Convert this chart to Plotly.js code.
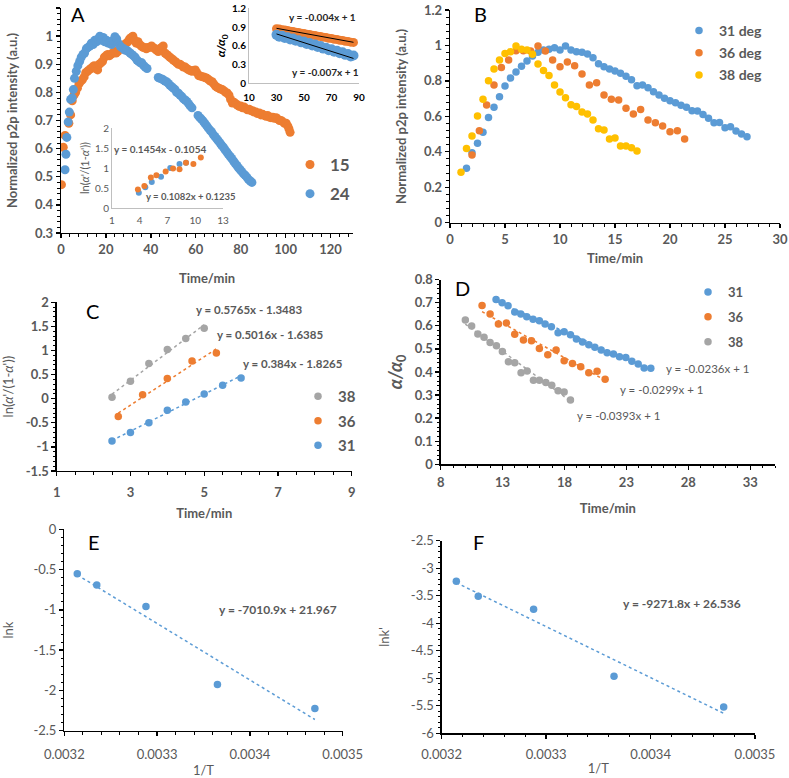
<!DOCTYPE html>
<html><head><meta charset="utf-8">
<script src="https://cdn.plot.ly/plotly-3.0.1.min.js"></script>
<style>html,body{margin:0;padding:0;background:#fff}</style>
</head><body><div id="chart" style="width:789px;height:778px"></div>
<script>
// ---------- Panel A (main) ----------
const a15x = [0.2,1.0,1.8,3.5,4.3,5.0,5.8,6.5,7.3,8.0,8.8,9.5,10.3,11.0,11.8,12.5,13.3,14.0,14.8,15.5,16.3,17.0,17.8,18.5,19.3,20.0,20.8,21.5,22.3,23.0,23.8,24.5,25.3,26.0,26.8,27.5,28.3,29.0,29.8,30.5,31.3,32.0,32.8,33.5,34.3,35.0,35.8,36.5,37.3,38.0,38.8,39.5,40.3,41.0,41.8,42.5,43.3,44.0,44.8,45.5,46.3,47.0,47.8,48.5,49.3,50.0,50.8,51.5,52.3,53.0,53.8,54.5,55.3,56.0,56.8,57.5,58.3,59.0,59.8,60.5,61.3,62.0,62.8,63.5,64.3,65.0,65.8,66.5,67.3,68.0,68.8,69.5,70.3,71.0,71.8,72.5,73.3,74.0,74.8,75.5,76.3,77.0,77.8,78.5,79.3,80.0,80.8,81.5,82.3,83.0,83.8,84.5,85.3,86.0,86.8,87.5,88.3,89.0,89.8,90.5,91.3,92.0,92.8,93.5,94.3,95.0,95.8,96.5,97.3,98.0,98.8,99.5,100.3,101.0,101.5,102.0];
const a15y = [0.472,0.605,0.647,0.69,0.72,0.77,0.79,0.80,0.815,0.83,0.84,0.845,0.855,0.87,0.875,0.88,0.885,0.89,0.895,0.885,0.88,0.90,0.905,0.91,0.925,0.93,0.935,0.93,0.935,0.94,0.945,0.94,0.945,0.955,0.96,0.965,0.97,0.975,0.98,0.99,0.995,1.0,0.985,0.975,0.98,0.97,0.965,0.96,0.96,0.955,0.96,0.96,0.965,0.96,0.955,0.95,0.945,0.955,0.96,0.965,0.94,0.935,0.93,0.925,0.92,0.915,0.91,0.905,0.90,0.90,0.895,0.89,0.89,0.885,0.88,0.878,0.875,0.878,0.88,0.87,0.86,0.858,0.856,0.855,0.852,0.85,0.845,0.84,0.838,0.83,0.822,0.818,0.815,0.812,0.81,0.806,0.80,0.798,0.79,0.775,0.762,0.765,0.76,0.755,0.75,0.752,0.745,0.748,0.742,0.738,0.74,0.735,0.735,0.73,0.73,0.725,0.727,0.72,0.722,0.718,0.715,0.718,0.712,0.71,0.712,0.708,0.71,0.705,0.70,0.70,0.695,0.69,0.69,0.68,0.67,0.658];
const a24x = [1.8,2.2,2.6,3.2,3.7,4.3,5.0,5.5,6.0,6.8,7.5,8.3,9.0,9.8,10.5,11.3,12.0,12.8,13.5,14.3,15.0,15.8,16.5,17.3,18.0,18.8,19.5,20.3,21.0,21.8,22.5,23.3,24.0,24.8,25.5,26.3,27.0,27.8,28.5,29.3,30.0,30.8,31.5,32.3,33.0,33.8,34.5,35.3,36.0,36.8,37.5,38.3,43.3,44.0,44.8,45.5,46.3,47.0,47.8,48.5,49.3,50.0,50.8,51.5,52.3,53.0,53.8,54.5,55.3,56.0,56.8,57.5,58.3,61.0,61.8,62.5,63.3,64.0,64.8,65.5,66.3,67.0,67.8,68.5,69.3,70.0,70.8,71.5,72.3,73.0,73.8,74.5,75.3,76.0,76.8,77.5,78.3,79.0,79.8,80.5,81.3,82.0,82.8,83.5,84.3,85.0];
const a24y = [0.525,0.58,0.64,0.695,0.73,0.775,0.78,0.81,0.85,0.875,0.895,0.91,0.925,0.935,0.94,0.955,0.96,0.965,0.975,0.97,0.985,0.98,0.99,1.0,0.985,0.995,0.98,0.985,0.975,0.98,0.97,0.985,0.998,0.99,0.975,0.965,0.96,0.955,0.95,0.95,0.945,0.94,0.935,0.93,0.925,0.915,0.91,0.905,0.905,0.895,0.89,0.885,0.853,0.85,0.848,0.845,0.84,0.838,0.832,0.825,0.82,0.815,0.81,0.80,0.797,0.79,0.785,0.777,0.773,0.768,0.76,0.752,0.745,0.718,0.71,0.705,0.698,0.69,0.682,0.674,0.666,0.66,0.65,0.643,0.635,0.628,0.62,0.612,0.605,0.596,0.588,0.58,0.572,0.565,0.556,0.548,0.54,0.532,0.525,0.518,0.51,0.505,0.498,0.49,0.485,0.48];

// ---------- Panel A inset (alpha/alpha0) ----------
const in1x15 = [30,32,34,36,38,40,42,44,46,48,50,52,54,56,58,60,62,64,66,68,70,72,74,76,78,80,82,84,86];
const in1y15 = [0.872,0.868,0.858,0.852,0.846,0.834,0.830,0.818,0.814,0.800,0.798,0.786,0.782,0.768,0.766,0.752,0.750,0.738,0.734,0.720,0.718,0.704,0.702,0.688,0.686,0.672,0.670,0.658,0.654];
const in1x24 = [30,32,34,36,38,40,42,44,46,48,50,52,54,56,58,60,62,64,66,68,70,72,74,76,78,80,82,84,86];
const in1y24 = [0.775,0.745,0.760,0.725,0.735,0.700,0.715,0.680,0.690,0.655,0.670,0.630,0.645,0.605,0.620,0.580,0.595,0.555,0.570,0.530,0.545,0.505,0.520,0.480,0.495,0.455,0.470,0.430,0.445];
const in1fit = {slope15: -0.004, int15: 1, slope24: -0.007, int24: 1};

// ---------- Panel A inset (ln) ----------
const in2x15 = [3.8,4.5,5.2,5.8,6.8,7.6,8.3,9.0,9.8,10.6];
const in2y15 = [0.46,0.55,0.76,0.82,0.91,0.99,0.97,1.13,1.10,1.26];
const in2x24 = [3.9,4.6,5.3,6.3,7.3,8.3,9.0];
const in2y24 = [0.38,0.52,0.65,0.78,1.0,1.10,1.13];

// ---------- Panel B ----------
const b31x = [1.5,2.0,2.5,3.0,3.5,4.0,4.5,5.0,5.5,6.0,6.5,7.0,7.5,8.0,8.5,9.0,9.5,10.0,10.5,11.0,11.5,12.0,12.5,13.0,13.5,14.0,14.5,15.0,15.5,16.0,16.5,17.0,17.5,18.0,18.5,19.0,19.5,20.0,20.5,21.0,21.5,22.0,22.5,23.0,23.5,24.0,24.5,25.0,25.5,26.0,26.5,27.0];
const b31y = [0.307,0.395,0.448,0.51,0.594,0.651,0.711,0.771,0.816,0.85,0.882,0.912,0.94,0.961,0.974,0.978,0.987,0.974,0.997,0.974,0.965,0.961,0.952,0.931,0.897,0.88,0.867,0.856,0.843,0.826,0.807,0.773,0.777,0.762,0.739,0.72,0.702,0.688,0.677,0.662,0.651,0.632,0.63,0.611,0.589,0.564,0.566,0.536,0.542,0.517,0.50,0.485];
const b36x = [2.0,2.67,3.33,4.0,4.67,5.33,6.0,6.67,7.33,8.0,8.67,9.33,10.0,10.67,11.33,12.0,12.67,13.33,14.0,14.67,15.33,16.0,16.67,17.33,18.0,18.67,19.33,20.0,20.67,21.33];
const b36y = [0.382,0.519,0.664,0.777,0.876,0.918,0.97,0.97,0.968,0.997,0.968,0.918,0.88,0.906,0.886,0.839,0.777,0.79,0.72,0.696,0.692,0.645,0.613,0.639,0.579,0.564,0.545,0.513,0.519,0.472];
const b38x = [1.0,1.5,2.0,2.5,3.0,3.5,4.0,4.5,5.0,5.5,6.0,6.5,7.0,7.5,8.0,8.5,9.0,9.5,10.0,10.5,11.0,11.5,12.0,12.5,13.0,13.5,14.0,14.5,15.0,15.5,16.0,16.5,17.0];
const b38y = [0.284,0.419,0.489,0.602,0.696,0.801,0.867,0.918,0.955,0.965,0.997,0.978,0.974,0.95,0.895,0.858,0.831,0.777,0.737,0.705,0.666,0.655,0.624,0.613,0.579,0.53,0.523,0.472,0.478,0.433,0.433,0.423,0.404];

// ---------- Panel C ----------
const c38x = [2.5,3.0,3.5,4.0,4.5,5.0];
const c38y = [0.03,0.36,0.73,1.02,1.25,1.46];
const c36x = [2.67,3.33,4.0,4.67,5.33];
const c36y = [-0.37,0.08,0.42,0.78,0.95];
const c31x = [2.5,3.0,3.5,4.0,4.5,5.0,5.5,6.0];
const c31y = [-0.88,-0.70,-0.50,-0.24,-0.07,0.10,0.28,0.43];
const cSlopes = [0.5765, 0.5016, 0.384];       // 38, 36, 31
const cIntercepts = [-1.3483, -1.6385, -1.8265];

// ---------- Panel D ----------
const d31x = [12.47,12.96,13.44,13.98,14.47,14.95,15.46,15.97,16.43,16.94,17.48,17.97,18.48,18.96,19.45,19.96,20.45,20.96,21.44,21.95,22.44,22.95,23.44,23.95,24.43,24.97];
const d31y = [0.714,0.70,0.687,0.66,0.651,0.639,0.628,0.622,0.608,0.596,0.57,0.574,0.561,0.543,0.53,0.518,0.507,0.495,0.483,0.478,0.466,0.463,0.446,0.434,0.417,0.416];
const d36x = [11.34,11.99,12.66,13.31,13.98,14.68,15.33,15.97,16.65,17.32,17.97,18.64,19.31,19.96,20.63,21.28];
const d36y = [0.688,0.651,0.608,0.612,0.563,0.538,0.535,0.502,0.475,0.495,0.449,0.437,0.423,0.397,0.403,0.368];
const d38x = [9.99,10.5,11.0,11.5,11.99,12.5,12.98,13.47,13.98,14.49,14.98,15.49,15.97,16.49,16.97,17.48,17.97,18.48];
const d38y = [0.625,0.599,0.564,0.55,0.528,0.514,0.489,0.444,0.44,0.397,0.404,0.364,0.364,0.354,0.342,0.319,0.313,0.279];
const dSlopes = [-0.0236, -0.0299, -0.0393];   // 31, 36, 38
const dIntercepts = [1, 1, 1];

// ---------- Panels E, F ----------
const invT = [0.003214, 0.003235, 0.003288, 0.003365, 0.003470];
const lnk = [-0.551, -0.690, -0.957, -1.928, -2.224];
const lnk2 = [-3.237, -3.510, -3.747, -4.962, -5.521];
const eFit = [-7010.9, 21.967];
const fFit = [-9271.8, 26.536];

// tick labels
const cYvals = [-1.5,-1,-0.5,0,0.5,1,1.5,2];
const cYtext = ["-1.5","-1","-0.5","0","0.5","1","1.5","2"];
const eYvals = [-2.5,-2,-1.5,-1,-0.5,0];
const eYtext = ["-2.5","-2","-1.5","-1","-0.5","0"];
const fYvals = [-6,-5.5,-5,-4.5,-4,-3.5,-3,-2.5];
const fYtext = ["-6","-5.5","-5","-4.5","-4","-3.5","-3","-2.5"];
const invTvals = [0.0032,0.0033,0.0034,0.0035];
const invTtext = ["0.0032","0.0033","0.0034","0.0035"];

// ---------- styling ----------
const BLUE = '#5B9BD5', ORANGE = '#ED7D31', YELLOW = '#FFC000', GREY = '#A5A5A5';
const TXT = '#595959';
const FF = "Lato, 'Open Sans', sans-serif";
const W = 789, H = 778;
function xd(a, b) { return [a / W, b / W]; }
function yd(top, bot) { return [1 - bot / H, 1 - top / H]; }
function fitLine(xs, m, b) {
  const lo = Math.min(...xs), hi = Math.max(...xs);
  return {x: [lo, hi], y: [m * lo + b, m * hi + b]};
}

function axis(o) {
  const a = {
    domain: o.domain, range: o.range, showline: true, linecolor: '#000', linewidth: 1.3,
    ticks: 'outside', ticklen: 4, tickwidth: 1.3, tickcolor: '#000',
    showgrid: false, zeroline: false, anchor: o.anchor,
    tickfont: {family: FF, size: o.fs || 13, color: TXT, weight: o.bold === false ? 'normal' : 'bold'},
    fixedrange: true, ticklabelstandoff: o.tls || 0
  };
  if (o.tickvals) { a.tickmode = 'array'; a.tickvals = o.tickvals; a.ticktext = o.ticktext; }
  else { a.tickmode = 'linear'; a.tick0 = o.tick0; a.dtick = o.dtick; }
  if (o.minor) a.minor = {tickmode: 'linear', tick0: o.tick0m !== undefined ? o.tick0m : o.range[0], dtick: o.minor, ticks: 'outside', ticklen: 2.5, tickwidth: 1, tickcolor: '#000'};
  if (o.title) a.title = {text: o.title, font: {family: FF, size: o.tfs || 13, color: TXT, weight: o.tbold === false ? 'normal' : 'bold'}, standoff: o.standoff || 6};
  return a;
}
function insetAxis(o) {
  const a = {
    domain: o.domain, range: o.range, showline: true, linecolor: '#BFBFBF', linewidth: 1,
    ticks: '', showgrid: false, zeroline: false, anchor: o.anchor, tickmode: 'linear', tick0: o.tick0, dtick: o.dtick,
    tickfont: {family: FF, size: 10, color: o.color, weight: o.bold ? 'bold' : 'normal'}, fixedrange: true,
    ticklabelstandoff: o.tls || 0
  };
  if (o.title) a.title = {text: o.title, font: {family: FF, size: o.tfs || 11, color: o.color, weight: o.bold ? 'bold' : 'normal'}, standoff: o.standoff || 3};
  return a;
}
function pts(x, y, color, size, xa, ya, name, leg, extra) {
  return Object.assign({type: 'scatter', mode: 'markers', x: x, y: y, name: name || 'data', xaxis: xa, yaxis: ya,
    marker: {color: color, size: size}, showlegend: !!leg, legend: leg || 'legend', hoverinfo: 'skip'}, extra || {});
}
function line(f, color, xa, ya, dash, width) {
  return {type: 'scatter', mode: 'lines', x: f.x, y: f.y, xaxis: xa, yaxis: ya, showlegend: false, hoverinfo: 'skip',
    name: 'trend', line: {color: color, dash: dash, width: width}};
}

const traces = [
  // A main
  pts(a15x, a15y, ORANGE, 9, 'x', 'y', '15', 'legend', {legendgroup: 'a1'}),
  pts(a24x, a24y, BLUE, 9, 'x', 'y', '24', 'legend', {legendgroup: 'a2'}),
  // A inset alpha
  pts(in1x15, in1y15, ORANGE, 9, 'x2', 'y2'),
  pts(in1x24, in1y24, BLUE, 10, 'x2', 'y2'),
  line(fitLine(in1x15, in1fit.slope15, in1fit.int15), '#000', 'x2', 'y2', 'solid', 1),
  line(fitLine(in1x24, in1fit.slope24, in1fit.int24), '#000', 'x2', 'y2', 'solid', 1),
  // A inset ln
  pts(in2x24, in2y24, BLUE, 6, 'x3', 'y3'),
  pts(in2x15, in2y15, ORANGE, 6, 'x3', 'y3'),
  // B
  pts(b31x, b31y, BLUE, 7.5, 'x4', 'y4', '31 deg', 'legend2', {legendgroup: 'b1'}),
  pts(b36x, b36y, ORANGE, 7.5, 'x4', 'y4', '36 deg', 'legend2', {legendgroup: 'b2'}),
  pts(b38x, b38y, YELLOW, 7.5, 'x4', 'y4', '38 deg', 'legend2', {legendgroup: 'b3'}),
  // C
  line(fitLine(c38x, cSlopes[0], cIntercepts[0]), GREY, 'x5', 'y5', 'dot', 1.5),
  line(fitLine(c36x, cSlopes[1], cIntercepts[1]), ORANGE, 'x5', 'y5', 'dot', 1.5),
  line(fitLine(c31x, cSlopes[2], cIntercepts[2]), BLUE, 'x5', 'y5', 'dot', 1.5),
  pts(c38x, c38y, GREY, 7.5, 'x5', 'y5', '38', 'legend3', {legendgroup: 'c1'}),
  pts(c36x, c36y, ORANGE, 7.5, 'x5', 'y5', '36', 'legend3', {legendgroup: 'c2'}),
  pts(c31x, c31y, BLUE, 7.5, 'x5', 'y5', '31', 'legend3', {legendgroup: 'c3'}),
  // D
  line(fitLine(d31x, dSlopes[0], dIntercepts[0]), BLUE, 'x6', 'y6', 'dot', 1.5),
  line(fitLine(d36x, dSlopes[1], dIntercepts[1]), ORANGE, 'x6', 'y6', 'dot', 1.5),
  line(fitLine(d38x, dSlopes[2], dIntercepts[2]), GREY, 'x6', 'y6', 'dot', 1.5),
  pts(d31x, d31y, BLUE, 7.5, 'x6', 'y6', '31', 'legend4', {legendgroup: 'd1'}),
  pts(d36x, d36y, ORANGE, 7.5, 'x6', 'y6', '36', 'legend4', {legendgroup: 'd2'}),
  pts(d38x, d38y, GREY, 7.5, 'x6', 'y6', '38', 'legend4', {legendgroup: 'd3'}),
  // E
  line(fitLine(invT, eFit[0], eFit[1]), BLUE, 'x7', 'y7', 'dot', 1.5),
  pts(invT, lnk, BLUE, 7.5, 'x7', 'y7'),
  // F
  line(fitLine(invT, fFit[0], fFit[1]), BLUE, 'x8', 'y8', 'dot', 1.5),
  pts(invT, lnk2, BLUE, 7.5, 'x8', 'y8')
];

function ann(text, px, py, size, color, bold, extra) {
  return Object.assign({text: text, x: px / W, y: 1 - py / H, xref: 'paper', yref: 'paper', showarrow: false,
    xanchor: 'center', yanchor: 'middle', font: {family: FF, size: size, color: color, weight: bold ? 'bold' : 'normal'}}, extra || {});
}
function legendBox(px, py, size, gap) {
  return {x: px / W, y: 1 - py / H, xanchor: 'left', yanchor: 'top', bgcolor: 'rgba(0,0,0,0)',
    font: {family: FF, size: size, color: TXT, weight: 'bold'}, tracegroupgap: gap, itemwidth: 30};
}

const layout = {
  width: W, height: H, margin: {l: 0, r: 0, t: 0, b: 0},
  paper_bgcolor: '#fff', plot_bgcolor: 'rgba(0,0,0,0)', showlegend: true,
  xaxis: axis({domain: xd(61, 353), range: [0, 130], tick0: 0, dtick: 20, minor: 4, anchor: 'y', title: 'Time/min', standoff: 18}),
  yaxis: axis({domain: yd(8, 233), range: [0.3, 1.1], tick0: 0.3, dtick: 0.1, minor: 0.02, anchor: 'x', title: 'Normalized p2p intensity (a.u.)', standoff: 14}),
  xaxis2: insetAxis({domain: xd(249, 359), range: [10, 90], tick0: 10, dtick: 20, anchor: 'y2', color: '#000', bold: true, tls: 5}),
  yaxis2: insetAxis({domain: yd(8.3, 83.3), range: [0, 1.2], tick0: 0, dtick: 0.3, anchor: 'x2', color: '#000', bold: true, title: '<i>α/α</i><sub>0</sub>', tfs: 12}),
  xaxis3: insetAxis({domain: xd(112, 223), range: [1, 13], tick0: 1, dtick: 3, anchor: 'y3', color: TXT, bold: false, tls: 3}),
  yaxis3: insetAxis({domain: yd(128, 208), range: [0, 2], tick0: 0, dtick: 0.5, anchor: 'x3', color: TXT, bold: false, title: "ln(<i>α</i>'/(1-<i>α</i>'))", tfs: 11}),
  xaxis4: axis({domain: xd(450, 780), range: [0, 30], tick0: 0, dtick: 5, minor: 1, anchor: 'y4', title: 'Time/min', standoff: 8}),
  yaxis4: axis({domain: yd(10, 222.7), range: [0, 1.2], tick0: 0, dtick: 0.2, minor: 0.04, anchor: 'x4', title: 'Normalized p2p intensity (a.u.)', standoff: 14}),
  xaxis5: axis({domain: xd(56.7, 351.7), range: [1, 9], tick0: 1, dtick: 2, minor: 0.5, anchor: 'y5', title: 'Time/min', standoff: 10, tls: 5}),
  yaxis5: axis({domain: yd(302.3, 471), range: [-1.5, 2], tickvals: cYvals, ticktext: cYtext, minor: 0.1, tick0m: -1.5, anchor: 'x5', title: "ln(<i>α</i>'/(1-<i>α</i>'))", tbold: false, standoff: 10}),
  xaxis6: axis({domain: xd(440.7, 775), range: [8, 35], tick0: 8, dtick: 5, minor: 1, anchor: 'y6', title: 'Time/min', standoff: 14, tls: 2}),
  yaxis6: axis({domain: yd(279.6, 464.3), range: [0, 0.8], tick0: 0, dtick: 0.1, minor: 0.02, anchor: 'x6', title: '<i>α/α</i><sub>0</sub>', tfs: 18, standoff: 7}),
  xaxis7: axis({domain: xd(64.3, 342.7), range: [0.0032, 0.0035], tickvals: invTvals, ticktext: invTtext, minor: 0.00002, tick0m: 0.0032, anchor: 'y7', bold: false, title: '1/T', tbold: false, standoff: 6, tls: 7}),
  yaxis7: axis({domain: yd(529.3, 730.7), range: [-2.5, 0], tickvals: eYvals, ticktext: eYtext, minor: 0.1, tick0m: -2.5, anchor: 'x7', bold: false, title: 'lnk', tbold: false, standoff: 22}),
  xaxis8: axis({domain: xd(441.7, 755), range: [0.0032, 0.0035], tickvals: invTvals, ticktext: invTtext, minor: 0.00002, tick0m: 0.0032, anchor: 'y8', bold: false, title: '1/T', tbold: false, standoff: 2, tls: 5}),
  yaxis8: axis({domain: yd(540.7, 733.3), range: [-6, -2.5], tickvals: fYvals, ticktext: fYtext, minor: 0.1, tick0m: -6, anchor: 'x8', bold: false, title: "lnk'", tbold: false, standoff: 18}),
  legend: legendBox(290, 147, 17, 4),
  legend2: legendBox(679, 15, 14, 1),
  legend3: legendBox(298, 380, 15, 2),
  legend4: legendBox(688, 277, 13, 5),
  annotations: [
    ann('A', 78, 14, 20, '#000', false),
    ann('B', 480, 14, 20, '#000', false),
    ann('C', 92, 311, 20, '#000', false),
    ann('D', 462, 288, 20, '#000', false),
    ann('E', 94, 542, 20, '#000', false),
    ann('F', 478, 542, 20, '#000', false),
    ann('y = -0.004x + 1', 322, 17, 10, '#262626', true),
    ann('y = -0.007x + 1', 325, 72, 10, '#262626', true),
    ann('y = 0.1454x - 0.1054', 160, 149, 10, TXT, true),
    ann('y = 0.1082x + 0.1235', 191, 196, 9.5, TXT, true),
    ann('y = 0.5765x - 1.3483', 249, 309, 11.5, TXT, true),
    ann('y = 0.5016x - 1.6385', 270, 334, 11.5, TXT, true),
    ann('y = 0.384x - 1.8265', 293, 363, 11.5, TXT, true),
    ann('y = -0.0236x + 1', 708, 368, 11.5, TXT, false),
    ann('y = -0.0299x + 1', 662, 390, 11.5, TXT, false),
    ann('y = -0.0393x + 1', 619, 416, 11.5, TXT, false),
    ann('y = -7010.9x + 21.967', 278, 609, 12, TXT, true),
    ann('y = -9271.8x + 26.536', 682, 603, 12, TXT, true)
  ]
};

Plotly.newPlot('chart', traces, layout, {displayModeBar: false, staticPlot: true});
</script></body></html>
